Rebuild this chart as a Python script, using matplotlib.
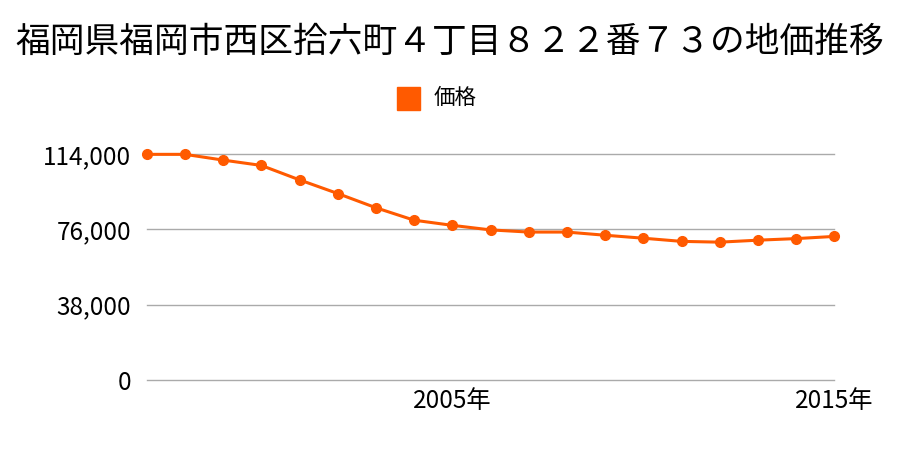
import numpy as np
import matplotlib
matplotlib.use("Agg")
import matplotlib.pyplot as plt
from matplotlib.patches import Rectangle

plt.rcParams['font.family'] = ['Noto Sans CJK JP', 'DejaVu Sans']

# data
years = list(range(1997, 2016))
prices = [114000, 114000, 111100, 108400, 101100, 94200, 87000, 80700, 78100,
          75800, 74700, 74700, 73100, 71600, 70000, 69600, 70600, 71400, 72500]
yticks = [0, 38000, 76000, 114000]
xticks = [2005, 2015]
title = '福岡県福岡市西区拾六町４丁目８２２番７３の地価推移'
series_name = '価格'
color = '#ff5a00'

fig = plt.figure(figsize=(9, 4.5), dpi=100)
ax = fig.add_axes([0.163, 0.156, 0.764, 0.501])

ax.plot(years, prices, color=color, lw=2.2, marker='o', ms=7,
        clip_on=False, zorder=3, label=series_name)

ax.set_xlim(years[0], years[-1])
ax.set_ylim(0, 114000)
ax.set_yticks(yticks)
ax.set_yticklabels([f'{v:,}' for v in yticks])
ax.set_xticks(xticks)
ax.set_xticklabels([f'{y}年' for y in xticks])
ax.tick_params(length=0, labelsize=17.5)
ax.tick_params(axis='y', pad=11)
ax.tick_params(axis='x', pad=6)
ax.grid(axis='y', color='#aaaaaa', lw=1)
for g in ax.get_ygridlines():
    g.set_clip_on(False)
for s in ax.spines.values():
    s.set_visible(False)

fig.text(0.5, 0.905, title, ha='center', va='center', fontsize=25)

# legend: square patch + label
fig.patches.append(Rectangle((397 / 900, 1 - 110 / 450), 23 / 900, 23 / 450,
                             transform=fig.transFigure, color=color))
fig.text(434 / 900, 1 - 98 / 450, series_name, ha='left', va='center', fontsize=15.5)

fig.savefig('out.png', dpi=100)
